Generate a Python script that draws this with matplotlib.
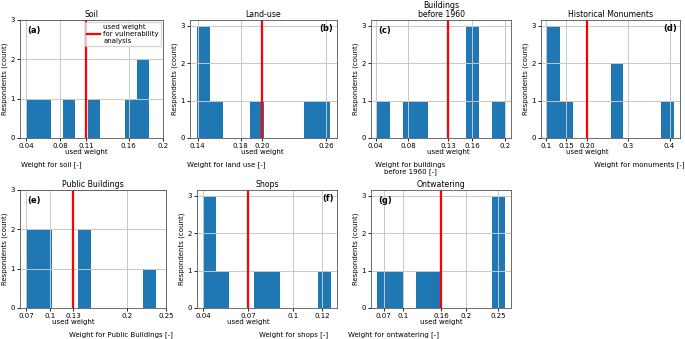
import numpy as np
import matplotlib
matplotlib.use("Agg")
import matplotlib.pyplot as plt

# respondent weights per criterion (7 respondents each)
soil = [0.04, 0.06, 0.09, 0.12, 0.16, 0.175, 0.184]
land_use = [0.139, 0.14, 0.145, 0.155, 0.195, 0.245, 0.264]
buildings = [0.042, 0.08, 0.10, 0.16, 0.16, 0.16, 0.20]
monuments = [0.104, 0.11, 0.12, 0.15, 0.26, 0.27, 0.41]
public = [0.07, 0.08, 0.09, 0.10, 0.14, 0.15, 0.237]
shops = [0.04, 0.042, 0.045, 0.05, 0.08, 0.09, 0.1255]
ontwatering = [0.06, 0.09, 0.13, 0.15, 0.25, 0.25, 0.26]

used = [0.11, 0.20, 0.13, 0.20, 0.13, 0.07, 0.16]
titles = ["Soil", "Land-use", "Buildings\nbefore 1960", "Historical Monuments",
          "Public Buildings", "Shops", "Ontwatering"]
xlabels = ["Weight for soil [-]", "Weight for land use [-]",
           "Weight for buildings\nbefore 1960 [-]", "Weight for monuments [-]",
           "Weight for Public Buildings [-]", "Weight for shops [-]",
           "Weight for ontwatering [-]"]
ticks = [[0.04, 0.08, 0.11, 0.16, 0.2],
         [0.14, 0.18, 0.20, 0.26],
         [0.04, 0.08, 0.13, 0.16, 0.2],
         [0.1, 0.15, 0.20, 0.3, 0.4],
         [0.07, 0.1, 0.13, 0.2, 0.25],
         [0.04, 0.07, 0.1, 0.12],
         [0.07, 0.1, 0.16, 0.2, 0.25]]
ticklabels = [["0.04", "0.08", "0.11", "0.16", "0.2"],
              ["0.14", "0.18", "0.20", "0.26"],
              ["0.04", "0.08", "0.13", "0.16", "0.2"],
              ["0.1", "0.15", "0.20", "0.3", "0.4"],
              ["0.07", "0.1", "0.13", "0.2", "0.25"],
              ["0.04", "0.07", "0.1", "0.12"],
              ["0.07", "0.1", "0.16", "0.2", "0.25"]]
letters = ["(a)", "(b)", "(c)", "(d)", "(e)", "(f)", "(g)"]
data = [soil, land_use, buildings, monuments, public, shops, ontwatering]

# layout in pixels: left, right, top, bottom
W, H = 685, 339
boxes = [(20, 163, 20, 138), (190, 337, 20, 138), (371, 511, 20, 138), (541, 680, 20, 138),
         (20, 166, 190, 308), (197, 337, 190, 308), (371, 511, 190, 308)]
letter_right = [False, True, False, True, False, True, False]
label_x = [0.22, 0.245, 0.28, 0.71, 0.69, 0.69, 0.16]

fs = 5.0
fig = plt.figure(figsize=(W / 100, H / 100), dpi=100)

for i in range(7):
    l, r, t, b = boxes[i]
    ax = fig.add_axes([l / W, (H - b) / H, (r - l) / W, (b - t) / H])
    counts, _, _ = ax.hist(data[i], bins=10, color="#1f77b4")
    ax.grid(True, color="#c8c8c8", lw=0.7)
    line = ax.axvline(used[i], color="red", lw=1.6)
    labs = list(ticklabels[i])
    k = ticks[i].index(used[i])
    labs[k] = labs[k] + "\nused weight"
    ax.set_xticks(ticks[i])
    ax.set_xticklabels(labs, fontsize=fs, linespacing=1.05)
    ax.set_yticks([0, 1, 2, 3])
    ax.set_yticklabels(["0", "1", "2", "3"], fontsize=fs)
    ax.set_ylim(0, 3.15 if max(counts) >= 3 else 3)
    ax.tick_params(length=2.5, pad=1.2, width=0.6)
    ax.set_title(titles[i], fontsize=fs + 0.6, pad=2, linespacing=1.0)
    ax.set_ylabel("Respondents (count)", fontsize=fs, labelpad=1.5)
    ax.set_xlabel(xlabels[i], fontsize=fs, linespacing=1.1)
    ax.xaxis.set_label_coords(label_x[i], -0.2)
    if letter_right[i]:
        ax.text(0.975, 0.93, letters[i], transform=ax.transAxes, ha="right", va="center",
                fontsize=fs + 1, fontweight="bold")
    else:
        ax.text(0.05, 0.91, letters[i], transform=ax.transAxes, ha="left", va="center",
                fontsize=fs + 1, fontweight="bold")
    if i == 0:
        ax.legend([line], ["used weight\nfor vulnerability\nanalysis"], loc="upper right",
                  fontsize=fs, handlelength=1.8, borderpad=0.3, labelspacing=0.2,
                  handletextpad=0.5, borderaxespad=0.3)
    for s in ax.spines.values():
        s.set_linewidth(0.6)
        s.set_color("#555555")

fig.savefig("out.png", dpi=100)
